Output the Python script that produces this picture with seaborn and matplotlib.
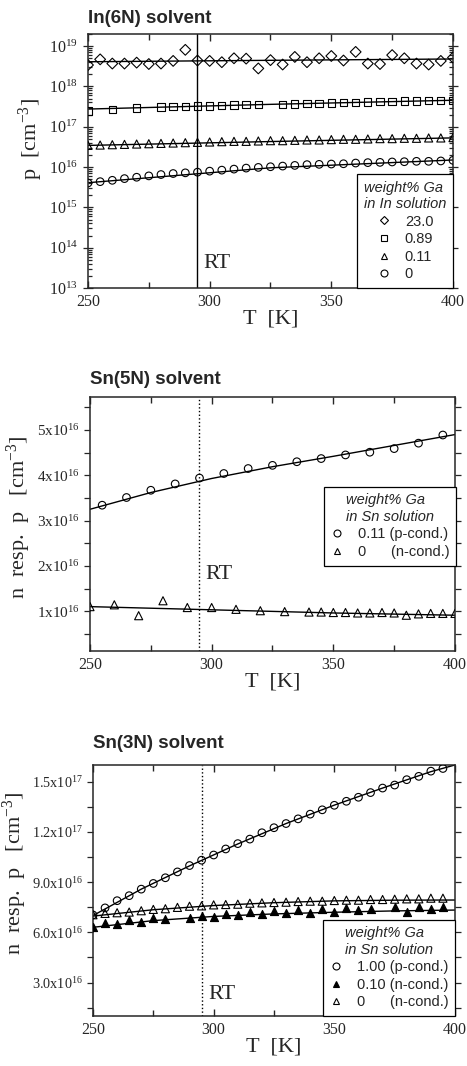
import math
import matplotlib
matplotlib.use("Agg")
import matplotlib.pyplot as plt
from matplotlib.lines import Line2D
from matplotlib.ticker import FixedLocator, FuncFormatter, LogLocator, NullFormatter
import seaborn as sns

# ---- In(6N) solvent (p, log scale) ----
t_5k = [250, 255, 260, 265, 270, 275, 280, 285, 290, 295, 300, 305, 310, 315, 320, 325,
        330, 335, 340, 345, 350, 355, 360, 365, 370, 375, 380, 385, 390, 395, 400]
in_230 = [3.4e18, 4.7e18, 3.7e18, 3.7e18, 3.9e18, 3.6e18, 3.7e18, 4.3e18, 8.1e18, 4.4e18,
          4.3e18, 4.0e18, 5.0e18, 4.9e18, 2.8e18, 4.5e18, 3.5e18, 5.4e18, 4.0e18, 5.0e18,
          5.7e18, 4.4e18, 7.2e18, 3.7e18, 3.6e18, 6.0e18, 5.0e18, 3.7e18, 3.5e18, 4.3e18, 5.2e18]
t_089 = [250, 260, 270, 280, 285, 290, 295, 300, 305, 310, 315, 320, 330, 335, 340, 345,
         350, 355, 360, 365, 370, 375, 380, 385, 390, 395, 400]
in_089 = [2.48e17, 2.69e17, 2.90e17, 3.07e17, 3.13e17, 3.13e17, 3.26e17, 3.26e17, 3.38e17,
          3.45e17, 3.52e17, 3.52e17, 3.59e17, 3.66e17, 3.73e17, 3.80e17, 3.87e17, 3.95e17,
          4.03e17, 4.11e17, 4.19e17, 4.27e17, 4.35e17, 4.35e17, 4.44e17, 4.44e17, 4.44e17]
in_011 = [3.45e16, 3.52e16, 3.59e16, 3.66e16, 3.73e16, 3.80e16, 3.87e16, 3.95e16, 4.03e16,
          4.11e16, 4.19e16, 4.27e16, 4.35e16, 4.35e16, 4.44e16, 4.52e16, 4.52e16, 4.61e16,
          4.70e16, 4.70e16, 4.80e16, 4.89e16, 4.89e16, 4.98e16, 5.08e16, 5.08e16, 5.18e16,
          5.18e16, 5.28e16, 5.28e16, 5.38e16]
in_0 = [4.03e15, 4.35e15, 4.70e15, 5.18e15, 5.60e15, 6.05e15, 6.53e15, 6.92e15, 7.20e15,
        7.48e15, 7.93e15, 8.40e15, 8.91e15, 9.44e15, 9.82e15, 1.02e16, 1.06e16, 1.10e16,
        1.15e16, 1.17e16, 1.19e16, 1.21e16, 1.26e16, 1.29e16, 1.31e16, 1.34e16, 1.36e16,
        1.39e16, 1.39e16, 1.42e16, 1.47e16]
fit_t_in = [250, 325, 400]
fit_in_230 = [4.1e18, 4.45e18, 4.8e18]
fit_in_089 = [2.75e17, 3.6e17, 4.55e17]
fit_in_011 = [3.45e16, 4.3e16, 5.3e16]
fit_in_0 = [4.1e15, 9.6e15, 1.5e16]

# ---- Sn(5N) solvent ----
t_sn5_p = [255, 265, 275, 285, 295, 305, 315, 325, 335, 345, 355, 365, 375, 385, 395]
sn5_011 = [3.34e16, 3.51e16, 3.67e16, 3.81e16, 3.94e16, 4.04e16, 4.15e16, 4.22e16, 4.30e16,
           4.37e16, 4.45e16, 4.51e16, 4.59e16, 4.71e16, 4.89e16]
t_sn5_n = [250, 260, 270, 280, 290, 300, 310, 320, 330, 340, 345, 350, 355, 360, 365, 370,
           375, 380, 385, 390, 395, 400]
sn5_0 = [1.10e16, 1.14e16, 0.90e16, 1.23e16, 1.08e16, 1.08e16, 1.04e16, 1.01e16, 0.99e16,
         0.98e16, 0.98e16, 0.97e16, 0.97e16, 0.96e16, 0.96e16, 0.97e16, 0.96e16, 0.91e16,
         0.94e16, 0.95e16, 0.95e16, 0.95e16]
fit_t_sn5 = [250, 275, 300, 325, 350, 375, 400]
fit_sn5_011 = [3.25e16, 3.62e16, 3.93e16, 4.19e16, 4.42e16, 4.66e16, 4.90e16]
fit_sn5_0 = [1.10e16, 1.065e16, 1.03e16, 0.995e16, 0.96e16, 0.935e16, 0.91e16]

# ---- Sn(3N) solvent ----
t_sn3 = [250, 255, 260, 265, 270, 275, 280, 285, 290, 295, 300, 305, 310, 315, 320, 325,
         330, 335, 340, 345, 350, 355, 360, 365, 370, 375, 380, 385, 390, 395]
sn3_100 = [7.04e16, 7.46e16, 7.89e16, 8.19e16, 8.58e16, 8.92e16, 9.26e16, 9.61e16, 9.99e16,
           10.31e16, 10.62e16, 10.98e16, 11.30e16, 11.57e16, 11.95e16, 12.25e16, 12.50e16,
           12.78e16, 13.06e16, 13.32e16, 13.59e16, 13.83e16, 14.07e16, 14.35e16, 14.62e16,
           14.80e16, 15.12e16, 15.32e16, 15.63e16, 15.79e16]
t_sn3_010 = [250, 255, 260, 265, 270, 275, 280, 290, 295, 300, 305, 310, 315, 320, 325, 330,
             335, 340, 345, 350, 355, 360, 365, 375, 380, 385, 390, 395]
sn3_010 = [6.34e16, 6.57e16, 6.50e16, 6.73e16, 6.61e16, 6.87e16, 6.79e16, 6.87e16, 6.99e16,
           6.93e16, 7.11e16, 7.01e16, 7.19e16, 7.09e16, 7.29e16, 7.13e16, 7.35e16, 7.17e16,
           7.41e16, 7.21e16, 7.47e16, 7.31e16, 7.41e16, 7.49e16, 7.23e16, 7.52e16, 7.41e16,
           7.49e16]
sn3_0 = [7.05e16, 7.13e16, 7.17e16, 7.21e16, 7.29e16, 7.37e16, 7.41e16, 7.49e16, 7.56e16,
         7.58e16, 7.64e16, 7.66e16, 7.68e16, 7.74e16, 7.76e16, 7.78e16, 7.80e16, 7.84e16,
         7.86e16, 7.86e16, 7.90e16, 7.92e16, 7.92e16, 7.96e16, 7.96e16, 7.98e16, 8.00e16,
         8.00e16, 8.04e16, 8.04e16]
fit_t_sn3_p = [250, 270, 290, 310, 330, 350, 370, 390, 400]
fit_sn3_100 = [7.0e16, 8.58e16, 9.97e16, 11.28e16, 12.5e16, 13.6e16, 14.62e16, 15.6e16, 16.0e16]
fit_t_sn3_n = [250, 275, 300, 325, 350, 375, 400]
fit_sn3_010 = [6.3e16, 6.7e16, 6.95e16, 7.1e16, 7.2e16, 7.28e16, 7.33e16]
fit_sn3_0 = [6.97e16, 7.35e16, 7.6e16, 7.77e16, 7.88e16, 7.92e16, 7.93e16]

RT = 295

sns.set_theme(style="ticks")
plt.rcParams["font.family"] = ["Liberation Serif", "DejaVu Serif"]
plt.rcParams["mathtext.fontset"] = "custom"
plt.rcParams["mathtext.rm"] = "Liberation Serif"
plt.rcParams["mathtext.it"] = "Liberation Serif:italic"
plt.rcParams["axes.linewidth"] = 1.1

SANS = "Liberation Sans"


def points(ax, x, y, marker, size, filled=False):
    if filled:
        sns.scatterplot(x=x, y=y, ax=ax, marker=marker, s=size, color="black",
                        edgecolor="black", linewidth=0.8, zorder=3)
    else:
        sns.scatterplot(x=x, y=y, ax=ax, marker=marker, s=size, facecolor="none",
                        edgecolor="black", linewidth=0.8, zorder=3)


def fit(ax, x, y):
    sns.lineplot(x=x, y=y, ax=ax, color="black", linewidth=1.0, estimator=None, zorder=2)


def style_axes(ax, title, ylabel, title_pad, label_x, label_y=0.5, ytick_size=11.5):
    ax.set_xlim(250, 400)
    ax.xaxis.set_major_locator(FixedLocator([250, 300, 350, 400]))
    ax.xaxis.set_minor_locator(FixedLocator([275, 325, 375]))
    ax.tick_params(axis="x", which="both", direction="in", top=True, bottom=True,
                   labelsize=11.5, pad=4)
    ax.tick_params(axis="x", which="major", length=5, width=1)
    ax.tick_params(axis="x", which="minor", length=4, width=1)
    ax.tick_params(axis="y", which="both", left=True, right=True, labelsize=ytick_size,
                   width=0.9)
    ax.set_xlabel("T  [K]", fontsize=16, labelpad=0)
    ax.set_ylabel(ylabel, fontsize=16)
    ax.yaxis.set_label_coords(label_x, label_y)
    ax.set_title(title, loc="left", fontsize=13.5, fontweight="bold", family=SANS,
                 pad=title_pad)


def legend(ax, handles, labels, title, **kw):
    leg = ax.legend(handles, labels, title=title, frameon=True, fancybox=False,
                    edgecolor="black", framealpha=1, prop={"family": SANS, "size": 10.5},
                    title_fontproperties={"family": SANS, "size": 10.5, "style": "italic"},
                    handlelength=1.0, handletextpad=0.9, labelspacing=0.25,
                    borderpad=0.45, **kw)
    leg.get_frame().set_linewidth(0.9)
    return leg


def h(marker, filled=False, ms=5):
    return Line2D([], [], ls="", marker=marker, ms=ms, mec="black", mew=0.8,
                  mfc="black" if filled else "none")


fig = plt.figure(figsize=(4.67, 10.66), dpi=100)

# ---- panel 1 ----
ax1 = fig.add_axes([0.1884, 0.7298, 0.7816, 0.2383])
ax1.set_yscale("log")
ax1.axvline(RT, color="black", linewidth=1.0, zorder=1)
fit(ax1, fit_t_in, fit_in_230)
fit(ax1, fit_t_in, fit_in_089)
fit(ax1, fit_t_in, fit_in_011)
fit(ax1, fit_t_in, fit_in_0)
points(ax1, t_5k, in_230, "D", 30)
points(ax1, t_089, in_089, "s", 28)
points(ax1, t_5k, in_011, "^", 34)
points(ax1, t_5k, in_0, "o", 30)
ax1.set_ylim(1e13, 2e19)
ax1.yaxis.set_major_locator(LogLocator(base=10, numticks=20))
ax1.yaxis.set_minor_locator(LogLocator(base=10, subs=range(2, 10), numticks=20))
ax1.yaxis.set_minor_formatter(NullFormatter())
ax1.yaxis.set_major_formatter(FuncFormatter(lambda v, p: r"$\mathrm{10}^{%d}$" % round(math.log10(v))))
style_axes(ax1, "In(6N) solvent", r"p  [cm$^{\mathrm{-3}}$]", 8, -0.118, 0.587)
ax1.tick_params(axis="y", which="major", direction="inout", length=7)
ax1.tick_params(axis="y", which="minor", direction="in", length=3)
ax1.text(297.5, 3.2e13, "RT", fontsize=16)
legend(ax1, [h("D", ms=4.5), h("s", ms=4.5), h("^"), h("o")], ["23.0", "0.89", "0.11", "0"],
       "weight% Ga\nin In solution", loc="lower right", borderaxespad=0)

# ---- panel 2 ----
ax2 = fig.add_axes([0.1927, 0.3893, 0.7816, 0.2383])
ax2.axvline(RT, color="black", linewidth=1.0, linestyle=":", zorder=1)
fit(ax2, fit_t_sn5, fit_sn5_011)
fit(ax2, fit_t_sn5, fit_sn5_0)
points(ax2, t_sn5_p, sn5_011, "o", 30)
points(ax2, t_sn5_n, sn5_0, "^", 34)
ax2.set_ylim(0.12e16, 5.73e16)
ax2.yaxis.set_major_locator(FixedLocator([1e16, 2e16, 3e16, 4e16, 5e16]))
ax2.yaxis.set_minor_locator(FixedLocator([0.5e16, 1.5e16, 2.5e16, 3.5e16, 4.5e16, 5.5e16]))
ax2.yaxis.set_major_formatter(FuncFormatter(lambda v, p: r"$\mathrm{%dx10}^{16}$" % round(v / 1e16)))
ax2.yaxis.get_offset_text().set_visible(False)
style_axes(ax2, "Sn(5N) solvent", r"n  resp.  p   [cm$^{\mathrm{-3}}$]", 9, -0.156, 0.528,
           ytick_size=11)
ax2.tick_params(axis="y", which="both", direction="out", length=4)
ax2.text(297.5, 1.72e16, "RT", fontsize=16)
legend(ax2, [h("o"), h("^")], ["0.11 (p-cond.)", "0      (n-cond.)"],
       "weight% Ga\nin Sn solution", loc="upper right", bbox_to_anchor=(1.003, 0.646),
       borderaxespad=0)

# ---- panel 3 ----
ax3 = fig.add_axes([0.1991, 0.0469, 0.7752, 0.2355])
ax3.axvline(RT, color="black", linewidth=1.0, linestyle=":", zorder=1)
fit(ax3, fit_t_sn3_p, fit_sn3_100)
fit(ax3, fit_t_sn3_n, fit_sn3_010)
fit(ax3, fit_t_sn3_n, fit_sn3_0)
points(ax3, t_sn3, sn3_100, "o", 30)
points(ax3, t_sn3_010, sn3_010, "^", 34, filled=True)
points(ax3, t_sn3, sn3_0, "^", 34)
ax3.set_ylim(1.0e16, 1.6e17)
ax3.yaxis.set_major_locator(FixedLocator([3e16, 6e16, 9e16, 12e16, 15e16]))
ax3.yaxis.set_minor_locator(FixedLocator([1.5e16, 4.5e16, 7.5e16, 10.5e16, 13.5e16]))


def sn3_fmt(v, p):
    e = 16 if v < 1e17 else 17
    return r"$\mathrm{%.1fx10}^{%d}$" % (v / 10 ** e, e)


ax3.yaxis.set_major_formatter(FuncFormatter(sn3_fmt))
ax3.yaxis.get_offset_text().set_visible(False)
style_axes(ax3, "Sn(3N) solvent", r"n  resp.  p   [cm$^{\mathrm{-3}}$]", 12, -0.178, 0.57,
           ytick_size=10.3)
ax3.tick_params(axis="y", which="both", direction="out", length=4)
ax3.text(298, 2.0e16, "RT", fontsize=16)
legend(ax3, [h("o"), h("^", filled=True), h("^")],
       ["1.00 (p-cond.)", "0.10 (n-cond.)", "0      (n-cond.)"],
       "weight% Ga\nin Sn solution", loc="lower right", borderaxespad=0)

fig.savefig("out.png", dpi=100)
